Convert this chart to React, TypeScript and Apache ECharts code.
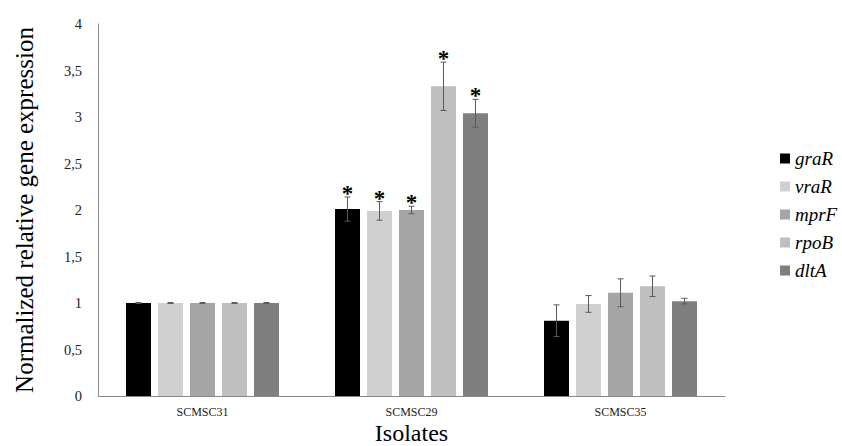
import React, { useEffect, useRef } from "react";
import * as echarts from "echarts";

const categories = ["SCMSC31", "SCMSC29", "SCMSC35"];
const genes = ["graR", "vraR", "mprF", "rpoB", "dltA"];
const graR = [1.0, 2.01, 0.81];
const vraR = [1.0, 1.99, 0.99];
const mprF = [1.0, 2.0, 1.11];
const rpoB = [1.0, 3.33, 1.18];
const dltA = [1.0, 3.04, 1.02];
const graRErr = [0.005, 0.13, 0.17];
const vraRErr = [0.005, 0.1, 0.09];
const mprFErr = [0.005, 0.04, 0.15];
const rpoBErr = [0.005, 0.26, 0.11];
const dltAErr = [0.005, 0.15, 0.03];
const significant = [false, true, false];
const yTicks = [0, 0.5, 1, 1.5, 2, 2.5, 3, 3.5, 4];

const values = [graR, vraR, mprF, rpoB, dltA];
const errors = [graRErr, vraRErr, mprFErr, rpoBErr, dltAErr];
const colors = ["#000000", "#d0d0d0", "#a5a5a5", "#bfbfbf", "#7f7f7f"];

const FONT = "'Liberation Serif', 'DejaVu Serif', 'Times New Roman', serif";
const BAR_W = 25;
const BAR_STEP = 32;

export default function App() {
  const ref = useRef<HTMLDivElement>(null);
  useEffect(() => {
    document.body.style.margin = "0";
    if (!ref.current) return;
    const chart = echarts.init(ref.current, null, { renderer: "svg" });
    const barSeries = genes.map((g, i) => ({
      name: g,
      type: "bar",
      data: values[i],
      barWidth: BAR_W,
      barGap: "28%",
      itemStyle: { color: colors[i] },
      z: 2,
    }));
    const errSeries = genes.map((g, i) => ({
      name: g + "_err",
      type: "custom",
      z: 5,
      silent: true,
      data: categories.map((_, c) => [c, values[i][c], errors[i][c], significant[c] ? 1 : 0]),
      encode: { x: 0, y: 1 },
      renderItem: (params: any, api: any) => {
        const cat = api.value(0);
        const v = api.value(1);
        const e = api.value(2);
        const s = api.value(3);
        const base = api.coord([cat, v]);
        const x = base[0] + (i - 2) * BAR_STEP;
        const top = api.coord([cat, v + e])[1];
        const bot = api.coord([cat, v - e])[1];
        const stroke = { stroke: "#5a5a5a", lineWidth: 1 };
        const children: any[] = [
          { type: "line", shape: { x1: x, y1: top, x2: x, y2: bot }, style: stroke },
          { type: "line", shape: { x1: x - 3, y1: top, x2: x + 3, y2: top }, style: stroke },
          { type: "line", shape: { x1: x - 3, y1: bot, x2: x + 3, y2: bot }, style: stroke },
        ];
        if (s) {
          children.push({
            type: "text",
            style: {
              x: x,
              y: top + 8,
              text: "*",
              align: "center",
              verticalAlign: "bottom",
              fontSize: 23,
              fontWeight: "bold",
              fontFamily: FONT,
              fill: "#000",
            },
          });
        }
        return { type: "group", children };
      },
    }));
    chart.setOption({
      animation: false,
      backgroundColor: "#ffffff",
      grid: { left: 98, right: 117, top: 24, bottom: 50, containLabel: false, outerBoundsMode: "none" },
      legend: {
        data: genes,
        orient: "vertical",
        left: 775,
        top: 144,
        itemWidth: 10,
        itemHeight: 10,
        itemGap: 9,
        icon: "rect",
        textStyle: { fontFamily: FONT, fontStyle: "italic", fontSize: 19, color: "#000" },
      },
      xAxis: {
        type: "category",
        data: categories,
        name: "Isolates",
        nameLocation: "middle",
        nameGap: 25,
        nameMoveOverlap: false,
        nameTextStyle: { fontFamily: FONT, fontSize: 24, color: "#000" },
        axisTick: { show: false },
        axisLine: { lineStyle: { color: "#8c8c8c", width: 1 } },
        axisLabel: { fontFamily: FONT, fontSize: 12, color: "#222", margin: 10 },
      },
      yAxis: {
        type: "value",
        min: 0,
        max: 4,
        interval: 0.5,
        name: "Normalized relative gene expression",
        nameLocation: "middle",
        nameGap: 61,
        nameMoveOverlap: false,
        nameTextStyle: { fontFamily: FONT, fontSize: 25, color: "#000" },
        axisLine: { show: true, lineStyle: { color: "#8c8c8c", width: 1 } },
        axisTick: { show: false },
        splitLine: { show: false },
        axisLabel: {
          fontFamily: FONT,
          fontSize: 14.5,
          color: "#222",
          margin: 16,
          formatter: (v: number) => (yTicks.includes(v) ? String(v).replace(".", ",") : ""),
        },
      },
      series: [...barSeries, ...errSeries],
    });
    return () => chart.dispose();
  }, []);
  return <div ref={ref} style={{ width: 842, height: 446 }} />;
}
